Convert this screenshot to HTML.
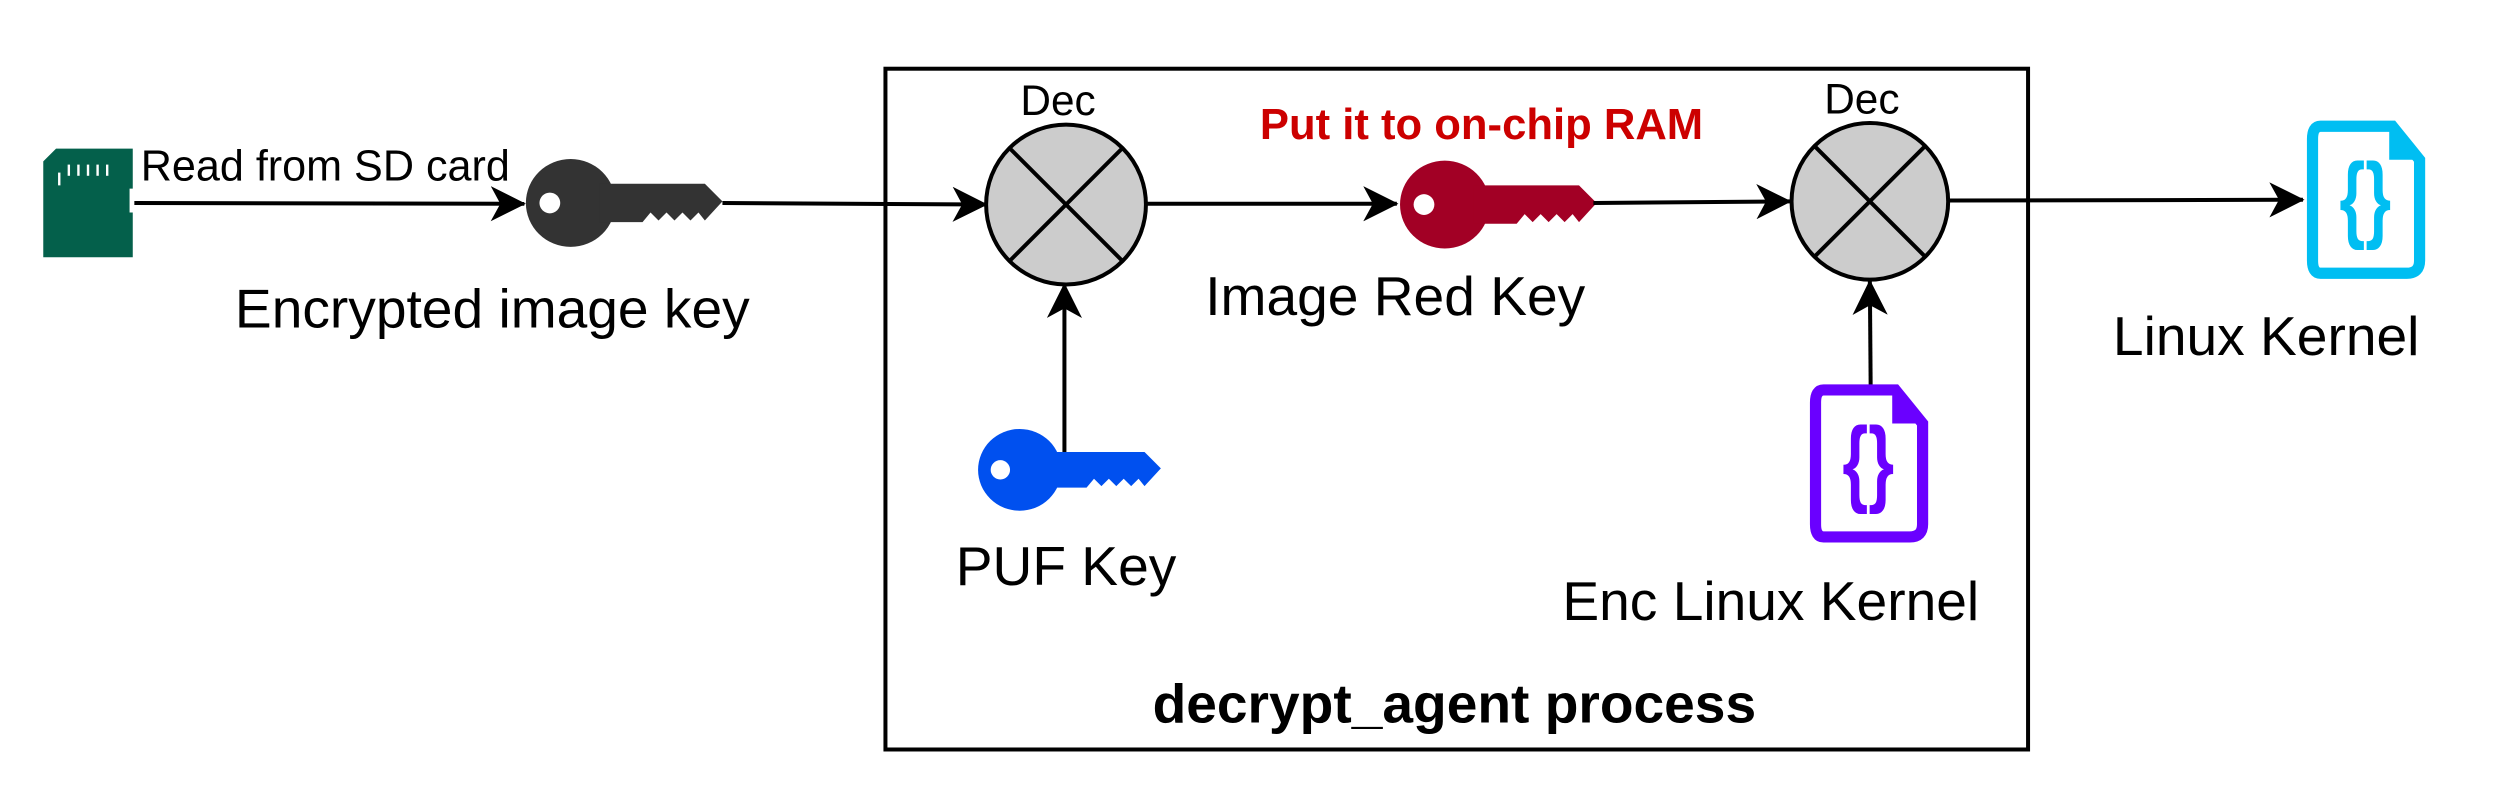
<!DOCTYPE html>
<html><head><meta charset="utf-8"><style>
html,body{margin:0;padding:0;background:#fff;}
svg{display:block;}
text{font-family:"Liberation Sans",sans-serif;}
</style></head><body>
<svg width="2506" height="792" viewBox="0 0 1568 495.6" xmlns="http://www.w3.org/2000/svg">
<defs>
<marker id="ar" viewBox="0 0 22 22" refX="21" refY="11" markerWidth="22" markerHeight="22" markerUnits="userSpaceOnUse" orient="auto">
<path d="M0,0 L22,11 L0,22 L6,11 Z" fill="#000"/>
</marker>
<g id="key">
<ellipse cx="0" cy="0" rx="28" ry="27.5"/>
<path d="M18,-12 H84 L95,-1 L84,11 L80,6 L75,11 L70,6 L65,11 L60,6 L55,11 L50,6 L45,12 H18 Z"/>
<circle cx="-13" cy="0" r="6.5" fill="#fff"/>
</g>
<g id="doc">
<path d="M9,4 H54 L71,25 V88 Q71,96 63,96 H9 Q4,96 4,88 V12 Q4,4 9,4 Z" fill="none" stroke-width="7"/>
<path d="M54,4 L71,25 H52 V4 Z" stroke="none"/>
<text x="37" y="70" font-size="52" font-weight="bold" text-anchor="middle" stroke="none" transform="translate(37,0) scale(0.8,1.15) translate(-37,-10)">{}</text>
</g>
</defs>

<!-- SD card -->
<path d="M27,101 L35,93 H83 V118 H81 V133 H83 V161 H27 Z" fill="#04604B"/>
<g stroke="#fff" stroke-width="1.5">
<line x1="37" y1="108" x2="37" y2="116"/><line x1="43" y1="103" x2="43" y2="110"/><line x1="49" y1="103" x2="49" y2="110"/><line x1="55" y1="103" x2="55" y2="110"/><line x1="61" y1="103" x2="61" y2="110"/><line x1="67" y1="103" x2="67" y2="110"/>
</g>
<text x="88" y="113" font-size="27">Read from SD card</text>
<line x1="84" y1="127" x2="328" y2="127.5" stroke="#000" stroke-width="2.5" marker-end="url(#ar)"/>

<g fill="#333" transform="translate(357,127)"><use href="#key"/></g>
<text x="308" y="205" font-size="34.5" text-anchor="middle">Encrypted image key</text>

<line x1="452" y1="127" x2="617" y2="128" stroke="#000" stroke-width="2.5" marker-end="url(#ar)"/>

<!-- box -->
<rect x="554" y="43" width="715" height="426" fill="none" stroke="#000" stroke-width="2.5"/>

<!-- Dec 1 -->
<text x="662" y="72" font-size="26.5" text-anchor="middle">Dec</text>
<ellipse cx="667" cy="128" rx="50" ry="50" fill="#ccc" stroke="#000" stroke-width="2.5"/>
<line x1="632" y1="93" x2="702" y2="163" stroke="#000" stroke-width="2.5"/>
<line x1="702" y1="93" x2="632" y2="163" stroke="#000" stroke-width="2.5"/>

<line x1="717" y1="127.5" x2="874" y2="127.5" stroke="#000" stroke-width="2.5" marker-end="url(#ar)"/>
<g fill="#A20025" transform="translate(904,128)"><use href="#key"/></g>
<text x="927" y="87" font-size="27.3" font-weight="bold" fill="#CC0000" text-anchor="middle">Put it to on-chip RAM</text>
<text x="873" y="197" font-size="34.5" text-anchor="middle">Image Red Key</text>

<line x1="997" y1="127" x2="1120" y2="126" stroke="#000" stroke-width="2.5" marker-end="url(#ar)"/>

<!-- Dec 2 -->
<text x="1165" y="71" font-size="26.5" text-anchor="middle">Dec</text>
<ellipse cx="1170" cy="126" rx="49" ry="49" fill="#ccc" stroke="#000" stroke-width="2.5"/>
<line x1="1135" y1="91" x2="1205" y2="161" stroke="#000" stroke-width="2.5"/>
<line x1="1205" y1="91" x2="1135" y2="161" stroke="#000" stroke-width="2.5"/>

<line x1="1220" y1="125.5" x2="1441" y2="125" stroke="#000" stroke-width="2.5" marker-end="url(#ar)"/>

<!-- Linux kernel -->
<g fill="#00BEF2" stroke="#00BEF2" transform="translate(1443,75)"><use href="#doc"/></g>
<text x="1418" y="222" font-size="34.5" text-anchor="middle">Linux Kernel</text>

<!-- Enc linux kernel -->
<line x1="1170.5" y1="241" x2="1170" y2="176" stroke="#000" stroke-width="2.5" marker-end="url(#ar)"/>
<g fill="#6A00FF" stroke="#6A00FF" transform="translate(1132,240)"><use href="#doc"/></g>
<text x="1108" y="388" font-size="34.5" text-anchor="middle">Enc Linux Kernel</text>

<!-- PUF key -->
<line x1="666" y1="284" x2="666" y2="178" stroke="#000" stroke-width="2.5" marker-end="url(#ar)"/>
<g fill="#0050EF" transform="translate(638,294) scale(0.93)"><use href="#key"/></g>
<text x="667" y="366" font-size="34.5" text-anchor="middle">PUF Key</text>

<text x="910" y="452" font-size="34.5" font-weight="bold" text-anchor="middle">decrypt_agent process</text>
</svg>
</body></html>
